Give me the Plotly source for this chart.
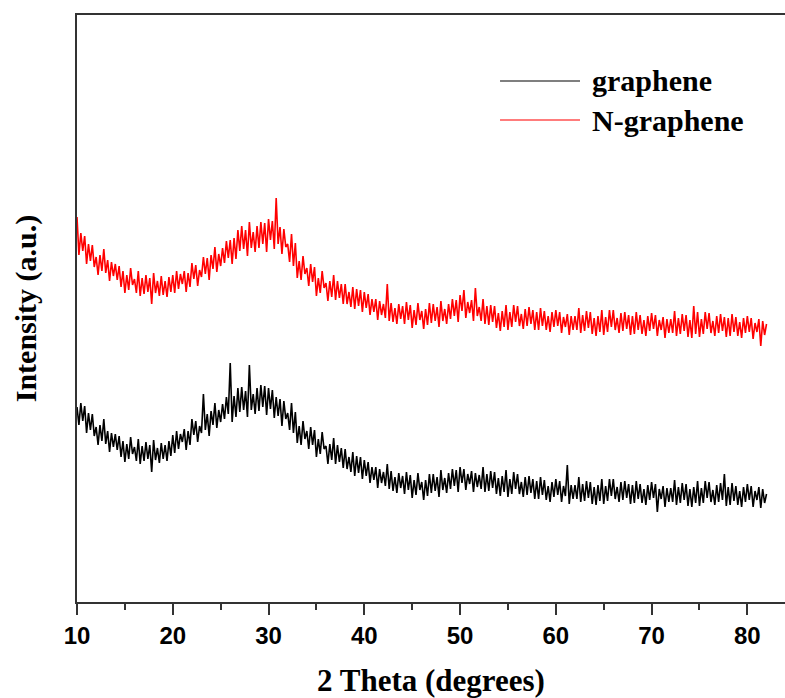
import plotly.graph_objects as go

# XRD step grid: 10.0 to 82.0 deg, 0.2 deg step
start_angle = 10.0
step_angle = 0.2

# graphene intensities (a.u.), 5 values per degree
graphene = [
    195, 177, 199, 181, 196,  169, 189, 172, 188, 166,  175, 157, 177, 161, 183,
    158, 171, 150, 169, 155,  168, 152, 166, 145, 161,  140, 158, 143, 165, 148,
    155, 141, 163, 138, 156,  141, 160, 143, 157, 130,  162, 142, 154, 139, 159,
    143, 157, 141, 161, 146,  167, 149, 171, 153, 168,  160, 173, 152, 171, 157,
    183, 167, 181, 160, 176,  169, 208, 172, 188, 166,  191, 177, 199, 174, 192,
    180, 198, 183, 205, 188,  239, 180, 206, 185, 214,  190, 215, 192, 211, 185,
    237, 192, 208, 188, 214,  191, 217, 195, 216, 187,  214, 193, 212, 184, 205,
    186, 203, 176, 201, 183,  189, 172, 199, 169, 190,  159, 176, 157, 181, 163,
    171, 153, 175, 157, 172,  145, 163, 148, 170, 153,  156, 138, 158, 142, 164,
    138, 157, 140, 154, 134,  153, 133, 145, 130, 150,  126, 146, 129, 145, 123,
    142, 126, 140, 119, 135,  122, 135, 114, 133, 119,  130, 116, 138, 113, 131,
    111, 125, 109, 129, 114,  126, 108, 130, 112, 127,  104, 122, 107, 129, 112,
    120, 102, 122, 106, 128,  109, 128, 111, 125, 105,  132, 112, 124, 109, 129,
    113, 133, 116, 132, 110,  135, 119, 133, 112, 128,  118, 131, 110, 129, 115,
    127, 113, 135, 110, 128,  111, 131, 114, 130, 108,  124, 106, 126, 110, 132,
    105, 123, 108, 130, 113,  128, 108, 120, 105, 125,  107, 126, 109, 123, 103,
    121, 103, 125, 107, 122,  102, 116, 100, 120, 105,  123, 107, 121, 100, 116,
    106, 137, 98, 117, 103,   117, 103, 125, 100, 118,  101, 121, 104, 120, 98,
    115, 97, 117, 101, 123,   98, 116, 101, 123, 106,   123, 103, 115, 100, 120,
    102, 121, 104, 118, 98,   117, 99, 121, 103, 118,   99, 113, 97, 117, 102,
    120, 104, 118, 90, 113,   103, 116, 95, 114, 100,   114, 100, 122, 97, 115,
    99, 119, 102, 118, 96,    113, 95, 115, 99, 121,    96, 114, 99, 121, 104,
    120, 100, 112, 97, 117,   100, 119, 102, 128, 96,   115, 97, 119, 101, 116,
    97, 111, 95, 115, 100,    118, 102, 116, 95, 111,   102, 115, 94, 113, 99,
    108,
]

# N-graphene intensities (a.u.), 5 values per degree
n_graphene = [
    385, 347, 369, 351, 366,  338, 358, 341, 357, 335,  345, 327, 347, 331, 353,
    329, 342, 321, 340, 326,  338, 322, 336, 315, 331,  309, 327, 312, 334, 317,
    323, 309, 331, 306, 324,  308, 327, 310, 324, 298,  329, 309, 321, 306, 326,
    307, 321, 305, 325, 310,  327, 309, 331, 313, 328,  318, 331, 310, 329, 315,
    339, 323, 337, 316, 332,  325, 345, 328, 344, 322,  347, 333, 355, 330, 348,
    336, 354, 339, 361, 344,  362, 338, 364, 343, 372,  351, 376, 353, 372, 346,
    380, 354, 370, 350, 376,  354, 380, 358, 379, 350,  383, 362, 381, 353, 404,
    358, 375, 348, 373, 355,  358, 340, 368, 336, 359,  324, 341, 322, 346, 328,
    334, 316, 338, 320, 335,  306, 324, 309, 331, 314,  319, 301, 321, 305, 327,
    302, 321, 304, 318, 298,  318, 298, 310, 295, 315,  293, 313, 296, 312, 290,
    310, 294, 308, 287, 303,  290, 303, 282, 301, 287,  298, 284, 318, 281, 299,
    280, 294, 278, 298, 283,  296, 278, 300, 282, 297,  274, 292, 277, 299, 282,
    291, 273, 293, 277, 299,  279, 298, 281, 295, 275,  301, 281, 293, 278, 298,
    283, 303, 286, 302, 280,  307, 291, 312, 284, 300,  289, 302, 281, 314, 286,
    295, 281, 303, 278, 296,  277, 297, 280, 296, 274,  289, 271, 291, 275, 297,
    272, 290, 275, 297, 280,  296, 276, 288, 273, 293,  276, 295, 278, 292, 272,
    290, 272, 294, 276, 291,  272, 286, 270, 290, 275,  292, 276, 290, 269, 285,
    275, 288, 267, 286, 272,  286, 272, 294, 269, 287,  271, 291, 274, 290, 268,
    284, 266, 286, 270, 292,  267, 285, 270, 292, 275,  292, 272, 284, 269, 289,
    271, 290, 273, 287, 267,  286, 268, 290, 272, 287,  268, 282, 266, 286, 271,
    289, 273, 287, 266, 282,  272, 285, 264, 283, 269,  283, 269, 291, 266, 284,
    268, 288, 271, 287, 265,  282, 264, 296, 268, 290,  265, 283, 268, 290, 273,
    289, 269, 281, 266, 286,  269, 288, 271, 285, 265,  284, 266, 288, 270, 285,
    266, 280, 264, 284, 269,  286, 270, 284, 263, 279,  270, 283, 256, 281, 267,
    278,
]

two_theta = [start_angle + step_angle * i for i in range(len(graphene))]

series_names = ["graphene", "N-graphene"]
series_colors = ["#000000", "#ff0000"]

x_ticks = [10, 20, 30, 40, 50, 60, 70, 80]
x_tick_labels = ["10", "20", "30", "40", "50", "60", "70", "80"]

fig = go.Figure()
for name, values, color in zip(series_names, [graphene, n_graphene], series_colors):
    fig.add_trace(go.Scatter(
        x=two_theta, y=values, mode="lines", name=name,
        line=dict(color=color, width=1.6), showlegend=False,
    ))

# legend drawn manually (long sample lines like the original)
legend_y = [0.8876, 0.8211]
legend_line_colors = ["#555555", "#ff5050"]
for name, ly, lc in zip(series_names, legend_y, legend_line_colors):
    fig.add_shape(type="line", xref="paper", yref="paper",
                  x0=0.5975, x1=0.7105, y0=ly, y1=ly,
                  line=dict(color=lc, width=1.5))
    fig.add_annotation(xref="paper", yref="paper", x=0.7246, y=ly,
                       xanchor="left", yanchor="middle", showarrow=False,
                       text=name,
                       font=dict(family="Liberation Serif", size=30,
                                 color="black", weight="bold"))

serif_bold = dict(family="Liberation Serif", size=31, color="black", weight="bold")

fig.update_layout(
    width=785, height=698,
    margin=dict(l=77, r=0, t=15, b=96),
    paper_bgcolor="white", plot_bgcolor="white",
    xaxis=dict(
        range=[10, 83.93],
        tickvals=x_ticks, ticktext=x_tick_labels,
        ticks="outside", ticklen=11, tickwidth=2, tickcolor="#333333",
        minor=dict(tickvals=[15, 25, 35, 45, 55, 65, 75], ticks="outside",
                   ticklen=6, tickwidth=2, tickcolor="#333333"),
        showline=True, linewidth=2, linecolor="#333333", mirror=True,
        showgrid=False, zeroline=False,
        tickfont=dict(family="Liberation Sans", size=24, color="black", weight="bold"),
        title=dict(text="2 Theta (degrees)", font=serif_bold, standoff=24),
    ),
    yaxis=dict(
        range=[0, 587],
        showticklabels=False, ticks="",
        showline=True, linewidth=2, linecolor="#333333", mirror=False,
        showgrid=False, zeroline=False,
        title=dict(text="Intensity (a.u.)",
                   font=dict(family="Liberation Serif", size=30, color="black", weight="bold"),
                   standoff=30),
    ),
)

fig.write_html("out.html")
